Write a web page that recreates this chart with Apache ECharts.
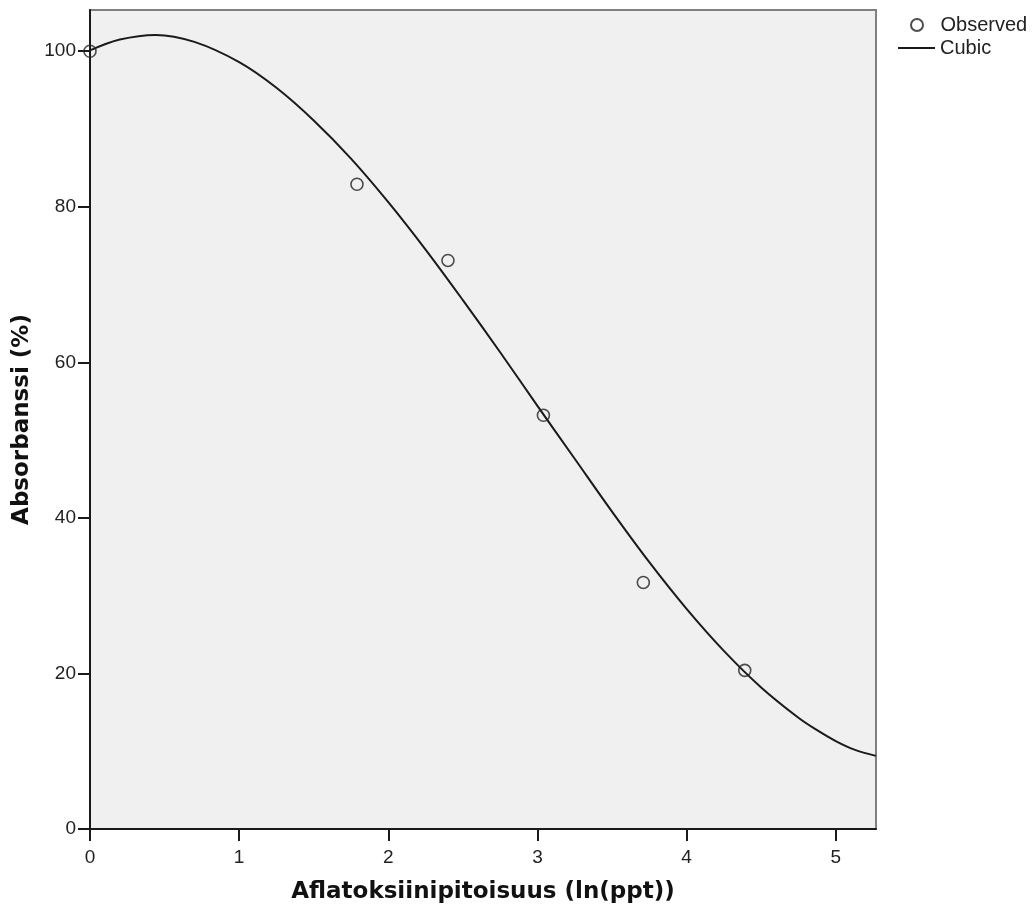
<!DOCTYPE html>
<html>
<head>
<meta charset="utf-8">
<script src="https://cdn.jsdelivr.net/npm/echarts@6/dist/echarts.min.js"></script>
<style>
  html, body { margin: 0; padding: 0; background: #fff; }
  #chart { width: 1035px; height: 917px; }
</style>
</head>
<body>
<div id="chart"></div>
<script>
// observed points (ln(ppt), absorbance %)
const obsX = [0, 1.79, 2.40, 3.04, 3.71, 4.39]
const obsY = [100, 82.9, 73.1, 53.2, 31.7, 20.4]

// cubic fit curve
const fitX = [0, 0.2, 0.44, 0.7, 1.0, 1.25, 1.5, 1.75, 2.0, 2.25, 2.5, 2.75, 3.0, 3.25, 3.5, 3.75, 4.0, 4.25, 4.5, 4.75, 4.875, 5.0, 5.125, 5.27]
const fitY = [100.1, 101.5, 102.1, 101.2, 98.6, 95.3, 91.1, 86.2, 80.6, 74.5, 68.0, 61.3, 54.4, 47.6, 40.8, 34.3, 28.3, 22.9, 18.2, 14.3, 12.7, 11.3, 10.2, 9.4]

const xTicks = [0, 1, 2, 3, 4, 5]
const yTicks = [0, 20, 40, 60, 80, 100]

const chart = echarts.init(document.getElementById('chart'))

const tickFont = { fontFamily: 'Liberation Sans', fontSize: 19, color: '#222' }
const titleFont = { fontFamily: 'DejaVu Sans', fontWeight: 'bold', fontSize: 23, color: '#111' }
const legendText = { fontFamily: 'Liberation Sans', fontSize: 20, lineHeight: 20, color: '#222' }

chart.setOption({
  animation: false,
  grid: {
    left: 90,
    right: 159,
    top: 10,
    bottom: 88,
    show: true,
    backgroundColor: '#f0f0f0',
    borderColor: '#808080',
    borderWidth: 2,
  },
  legend: [
    {
      orient: 'vertical',
      left: 910,
      top: 15,
      padding: 0,
      itemWidth: 37,
      itemHeight: 12,
      textStyle: legendText,
      data: ['Observed'],
    },
    {
      orient: 'vertical',
      left: 898,
      top: 38,
      padding: 0,
      itemWidth: 37,
      itemHeight: 2,
      textStyle: legendText,
      data: [{ name: 'Cubic', icon: 'rect', itemStyle: { color: '#1a1a1a' } }],
    },
  ],
  xAxis: {
    type: 'value',
    min: 0,
    max: 5.27,
    name: 'Aflatoksiinipitoisuus (ln(ppt))',
    nameLocation: 'middle',
    nameGap: 52,
    nameTextStyle: titleFont,
    axisLine: { show: true, lineStyle: { color: '#1a1a1a', width: 2 } },
    axisTick: { show: true, inside: false, length: 12, customValues: xTicks, lineStyle: { color: '#1a1a1a', width: 2 } },
    axisLabel: { customValues: xTicks, margin: 19, ...tickFont },
    splitLine: { show: false },
  },
  yAxis: {
    type: 'value',
    min: 0,
    max: 105.3,
    name: 'Absorbanssi (%)',
    nameLocation: 'middle',
    nameGap: 52,
    nameTextStyle: titleFont,
    axisLine: { show: true, lineStyle: { color: '#1a1a1a', width: 2 } },
    axisTick: { show: true, inside: false, length: 12, customValues: yTicks, lineStyle: { color: '#1a1a1a', width: 2 } },
    axisLabel: { customValues: yTicks, margin: 14, ...tickFont },
    splitLine: { show: false },
  },
  series: [
    {
      name: 'Cubic',
      type: 'line',
      smooth: 0.35,
      symbol: 'none',
      lineStyle: { color: '#1a1a1a', width: 2 },
      data: fitX.map((x, i) => [x, fitY[i]]),
      z: 2,
    },
    {
      name: 'Observed',
      type: 'scatter',
      symbol: 'circle',
      symbolSize: 12,
      itemStyle: { color: 'rgba(0,0,0,0)', borderColor: '#222', borderWidth: 1.6 },
      data: obsX.map((x, i) => [x, obsY[i]]),
      z: 3,
    },
  ],
})
</script>
</body>
</html>
